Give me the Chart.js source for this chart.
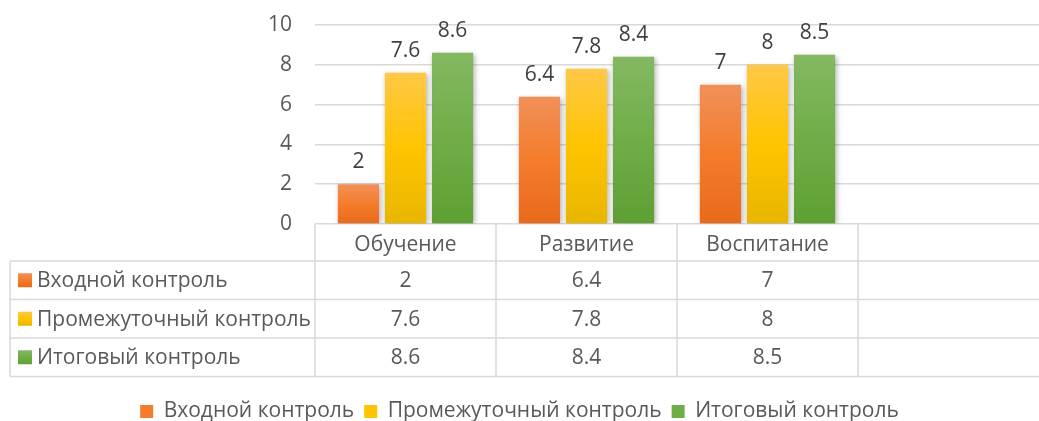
<!DOCTYPE html>
<html>
<head>
<meta charset="utf-8">
<script src="https://cdn.jsdelivr.net/npm/chart.js@4.4.1/dist/chart.umd.min.js"></script>
<style>
  html, body { margin: 0; padding: 0; background: #fff; }
  #wrap { width: 1039px; height: 421px; }
</style>
</head>
<body>
<div id="wrap"><canvas id="myChart"></canvas></div>
<script>
// categories (the 4th column is empty in the original)
const categories = ['Обучение', 'Развитие', 'Воспитание', ''];
const seriesNames = ['Входной контроль', 'Промежуточный контроль', 'Итоговый контроль'];
const entryValues = [2, 6.4, 7, null];
const midValues = [7.6, 7.8, 8, null];
const finalValues = [8.6, 8.4, 8.5, null];
const yTicks = [0, 2, 4, 6, 8, 10];

const FONT = '"Open Sans", "Noto Sans", sans-serif';
const FONT_SIZE = 21;
const TEXT = '#595959';
const LINE = '#d9d9d9';

// top / middle / bottom colours of the excel gradients
const gradients = [
    ['#f1905a', '#f47c2a', '#e86a1a'],
    ['#ffc846', '#ffc400', '#e8b600'],
    ['#84b862', '#70ad47', '#5ea034']
];

function makeGradient(ctx, top, bottom, stops) {
    let g = ctx.createLinearGradient(0, top, 0, bottom);
    g.addColorStop(0, stops[0]);
    g.addColorStop(0.5, stops[1]);
    g.addColorStop(1, stops[2]);
    return g;
}

function barColor(i) {
    return function (context) {
        const chart = context.chart;
        const y = chart.scales.y;
        if (!chart.chartArea || !y || context.raw == null) return gradients[i][1];
        return makeGradient(chart.ctx, y.getPixelForValue(context.raw), y.getPixelForValue(0), gradients[i]);
    };
}

// soft shadow behind the bars
const shadowPlugin = {
    id: 'shadow',
    beforeDatasetsDraw(chart) {
        const ctx = chart.ctx;
        ctx.save();
        ctx.shadowColor = 'rgba(0,0,0,0.28)';
        ctx.shadowBlur = 5;
        ctx.shadowOffsetX = 1.5;
        ctx.shadowOffsetY = 1;
    },
    afterDatasetsDraw(chart) {
        chart.ctx.restore();
    }
};

// value labels above bars
const labelPlugin = {
    id: 'valueLabels',
    afterDatasetsDraw(chart) {
        const ctx = chart.ctx;
        ctx.save();
        ctx.font = FONT_SIZE + 'px ' + FONT;
        ctx.fillStyle = '#404040';
        ctx.textAlign = 'center';
        ctx.textBaseline = 'alphabetic';
        chart.data.datasets.forEach((ds, i) => {
            chart.getDatasetMeta(i).data.forEach((bar, j) => {
                if (ds.data[j] == null) return;
                ctx.fillText(String(ds.data[j]), bar.x, bar.y - 16);
            });
        });
        ctx.restore();
    }
};

// data table under the plot
const tablePlugin = {
    id: 'dataTable',
    afterDraw(chart) {
        const ctx = chart.ctx;
        const x = chart.scales.x;
        const area = chart.chartArea;
        const headerH = 37;
        const rowH = 38.5;
        const tableLeft = 10;
        const top = area.bottom;
        const rowsTop = top + headerH;
        const bottom = rowsTop + rowH * seriesNames.length;

        let bounds = [x.left];
        for (let i = 1; i < categories.length; i++) {
            bounds.push((x.getPixelForValue(i - 1) + x.getPixelForValue(i)) / 2);
        }

        ctx.save();
        ctx.strokeStyle = LINE;
        ctx.lineWidth = 1.5;
        ctx.beginPath();
        bounds.forEach(b => { ctx.moveTo(b, top); ctx.lineTo(b, bottom); });
        ctx.moveTo(tableLeft, rowsTop); ctx.lineTo(tableLeft, bottom);
        for (let r = 0; r <= seriesNames.length; r++) {
            const yy = rowsTop + r * rowH;
            ctx.moveTo(tableLeft, yy); ctx.lineTo(chart.width, yy);
        }
        ctx.stroke();

        ctx.font = FONT_SIZE + 'px ' + FONT;
        ctx.fillStyle = TEXT;
        ctx.textBaseline = 'middle';
        chart.data.datasets.forEach((ds, i) => {
            const cy = rowsTop + i * rowH + rowH / 2;
            ctx.fillStyle = makeGradient(ctx, cy - 7, cy + 7, gradients[i]);
            ctx.fillRect(18, cy - 7, 14, 14);
            ctx.fillStyle = TEXT;
            ctx.textAlign = 'left';
            ctx.fillText(ds.label, 37, cy + 1);
            ctx.textAlign = 'center';
            ds.data.forEach((v, j) => {
                if (v == null) return;
                ctx.fillText(String(v), x.getPixelForValue(j), cy + 1);
            });
        });
        ctx.restore();
    }
};

const ctx = document.getElementById('myChart').getContext('2d');

const myChart = new Chart(ctx, {
    type: 'bar',
    data: {
        labels: categories,
        datasets: [
            { label: seriesNames[0], data: entryValues, backgroundColor: barColor(0) },
            { label: seriesNames[1], data: midValues, backgroundColor: barColor(1) },
            { label: seriesNames[2], data: finalValues, backgroundColor: barColor(2) }
        ]
    },
    options: {
        responsive: true,
        maintainAspectRatio: false,
        animation: false,
        layout: { padding: { top: 25, right: 0, left: 0, bottom: -11 } },
        datasets: {
            bar: { categoryPercentage: 0.78, barPercentage: 0.875 }
        },
        plugins: {
            tooltip: { enabled: false },
            legend: {
                position: 'bottom',
                labels: {
                    font: { family: FONT, size: FONT_SIZE },
                    color: TEXT,
                    boxWidth: 13,
                    boxHeight: 13,
                    padding: 10,
                    generateLabels(chart) {
                        return chart.data.datasets.map((ds, i) => ({
                            text: ds.label,
                            fillStyle: gradients[i][1],
                            strokeStyle: 'rgba(0,0,0,0)',
                            lineWidth: 0,
                            fontColor: TEXT,
                            datasetIndex: i
                        }));
                    }
                }
            }
        },
        scales: {
            x: {
                grid: { display: false },
                border: { display: false },
                ticks: {
                    font: { family: FONT, size: FONT_SIZE },
                    color: TEXT,
                    padding: 0
                },
                afterFit(scale) { scale.height = 167; }
            },
            y: {
                min: 0,
                max: 10,
                afterBuildTicks(scale) { scale.ticks = yTicks.map(v => ({ value: v })); },
                grid: { color: LINE, lineWidth: 1.5, drawTicks: true, tickLength: 15, tickColor: 'rgba(0,0,0,0)' },
                border: { display: false },
                ticks: {
                    font: { family: FONT, size: FONT_SIZE },
                    color: TEXT,
                    padding: 8
                },
                afterFit(scale) { scale.width = 315; }
            }
        }
    },
    plugins: [shadowPlugin, labelPlugin, tablePlugin]
});
</script>
</body>
</html>
